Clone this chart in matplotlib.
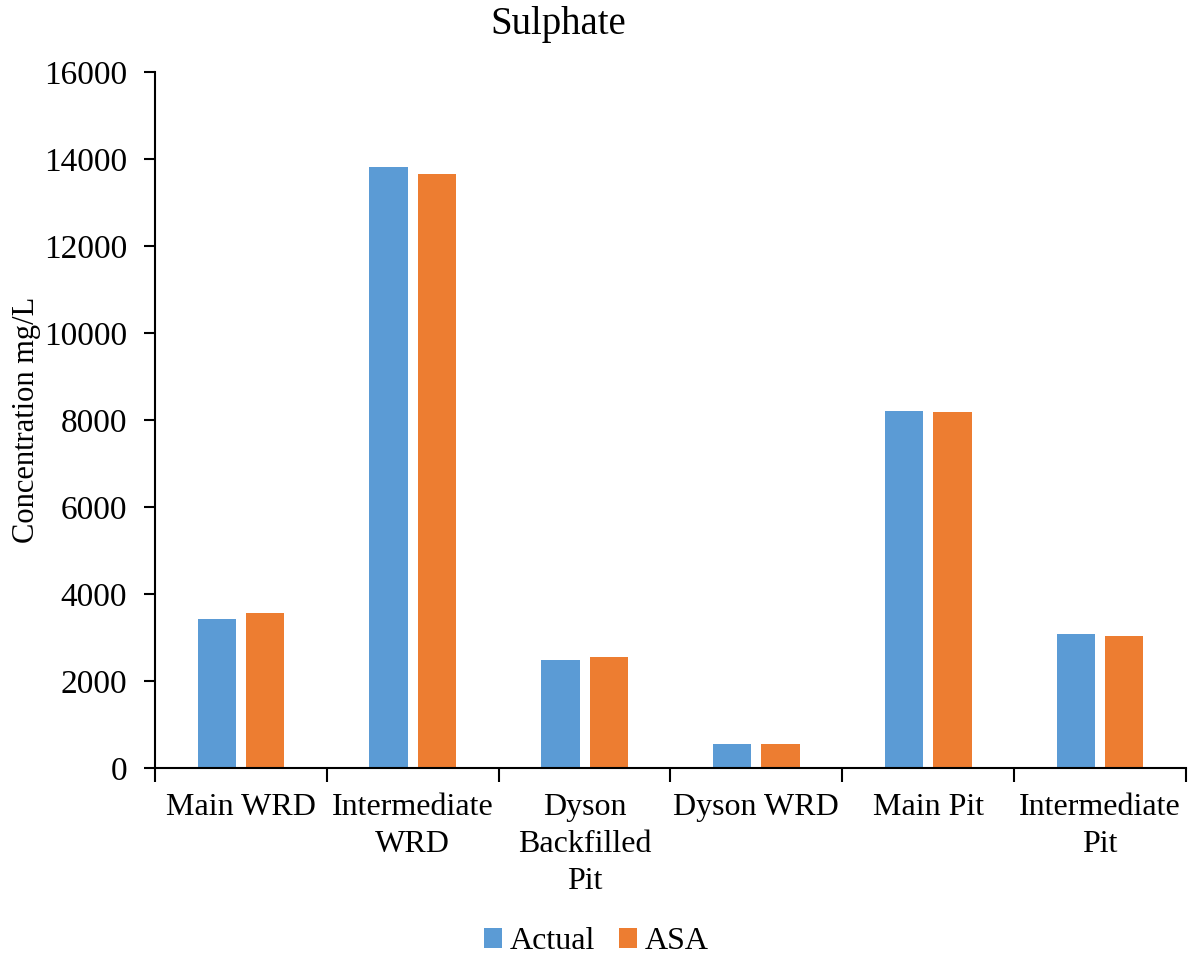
import numpy as np
import matplotlib
matplotlib.use("Agg")
import matplotlib.pyplot as plt
from matplotlib.ticker import FixedLocator

# sulphate concentration per site, mg/L
sites = ["Main WRD", "Intermediate\nWRD", "Dyson\nBackfilled\nPit",
         "Dyson WRD", "Main Pit", "Intermediate\nPit"]
actual = [3430, 13810, 2490, 560, 8195, 3090]
asa = [3570, 13650, 2560, 545, 8185, 3045]
yticks = [0, 2000, 4000, 6000, 8000, 10000, 12000, 14000, 16000]

plt.rcParams["font.family"] = ["Liberation Serif", "DejaVu Serif"]
plt.rcParams["font.size"] = 23

fig = plt.figure(figsize=(11.93, 9.56), dpi=100)
ax = fig.add_axes([0.130, 0.1967, 0.864, 0.728])

x = np.arange(len(sites)) + 0.5
w = 0.223
off = 0.141
ax.bar(x - off, actual, w, color="#5B9BD5", label="Actual")
ax.bar(x + off, asa, w, color="#ED7D31", label="ASA")

ax.set_xlim(0, len(sites))
ax.set_ylim(0, 16000)
ax.set_yticks(yticks)
ax.set_yticklabels([str(t) for t in yticks], fontsize=24)
ax.set_xticks(x)
ax.set_xticklabels(sites, linespacing=1.37)
ax.xaxis.set_minor_locator(FixedLocator(np.arange(len(sites) + 1)))
ax.tick_params(axis="x", which="major", length=0, pad=18)
ax.tick_params(axis="x", which="minor", length=10, width=1.5, color="black")
ax.tick_params(axis="y", length=8, width=1.5, pad=12)

for s in ["top", "right"]:
    ax.spines[s].set_visible(False)
for s in ["left", "bottom"]:
    ax.spines[s].set_linewidth(1.5)

ax.set_ylabel("Concentration mg/L", fontsize=22, labelpad=2.5)
fig.text(558 / 1193, 0.974, "Sulphate", fontsize=28, ha="center", va="center")

fig.legend(loc="center", bbox_to_anchor=(0.5, 0.015), ncol=2, frameon=False,
           handlelength=0.56, handleheight=0.56, handletextpad=0.25,
           columnspacing=0.75, borderpad=0)

fig.savefig("out.png", dpi=100)
